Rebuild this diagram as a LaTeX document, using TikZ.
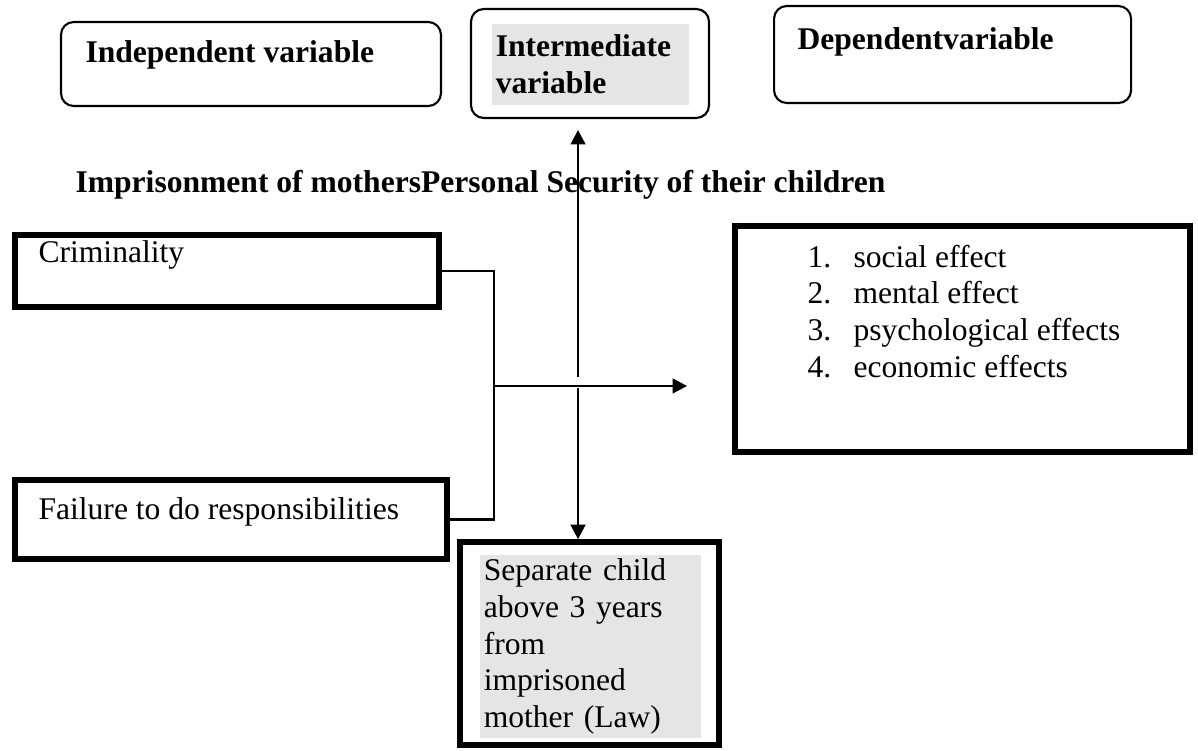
\documentclass[tikz,border=0pt]{standalone}
\usepackage{fontspec}
\setmainfont{Liberation Serif}
\usetikzlibrary{arrows.meta,positioning}

\begin{document}
\begin{tikzpicture}[
	font=\fontsize{12}{14}\selectfont,
	varbox/.style={draw=black, line width=0.8pt, rounded corners=0.17cm},
	thickbox/.style={draw=black, line width=2.2pt},
	txt/.style={anchor=west, inner sep=0pt, align=left},
	shade/.style={fill=black!10, inner xsep=0.05cm, inner ysep=0pt, align=left},
	link/.style={black, line width=0.8pt},
	arr/.style={link, -{Triangle[length=5.5pt,width=5.6pt]}}
	]
	\useasboundingbox (0,0) rectangle (16,10.017);
	\node[varbox, minimum width=5.075cm, minimum height=1.122cm] (indep) at (3.352,9.162) {};
	\node[varbox, minimum width=3.179cm, minimum height=1.456cm] (inter) at (7.880,9.169) {};
	\node[varbox, minimum width=4.768cm, minimum height=1.296cm] (dep) at (12.722,9.289) {};
	\node[txt, font=\fontsize{12}{14}\selectfont\bfseries] (indeptxt) at (1.135,9.282) {Independent variable};
	\node[shade, text width=2.531cm, minimum height=1.082cm, font=\fontsize{12}{14}\selectfont\bfseries] (intertxt) at (7.887,9.155) {Intermediate\\variable};
	\node[txt, font=\fontsize{12}{14}\selectfont\bfseries] (deptxt) at (10.645,9.456) {Dependentvariable};
	\node[txt, font=\fontsize{12}{14}\selectfont\bfseries] (title) at (1.002,7.546) {Imprisonment of mothersPersonal Security of their children};
	\node[thickbox, minimum width=5.663cm, minimum height=0.962cm] (crim) at (3.032,6.398) {};
	\node[thickbox, minimum width=5.770cm, minimum height=1.055cm] (fail) at (3.085,3.079) {};
	\node[thickbox, minimum width=6.077cm, minimum height=3.018cm] (effects) at (12.855,5.489) {};
	\node[thickbox, minimum width=3.459cm, minimum height=2.711cm] (law) at (7.873,1.422) {};
	\node[txt] (crimtxt) at (0.508,6.611) {Criminality};
	\node[txt] (failtxt) at (0.508,3.179) {Failure to do responsibilities};
	\node[txt] (efflist) at (10.778,5.857) {\makebox[17.5pt][l]{1.}social effect\\\makebox[17.5pt][l]{2.}mental effect\\\makebox[17.5pt][l]{3.}psychological effects\\\makebox[17.5pt][l]{4.}economic effects};
	\node[shade, text width=2.852cm, minimum height=2.444cm] (lawtxt) at (7.887,1.382) {Separate child\\above 3 years\\from\\imprisoned\\mother (Law)};
	\coordinate (brk) at (6.598,4.862);
	\coordinate (ctr) at (7.720,4.862);
	\coordinate (efftip) at (9.176,4.862);
	\coordinate (uptip) at (7.720,8.281);
	\draw[link] (crim.east) -| (brk) |- (fail.east);
	\draw[arr] (brk) -- (efftip);
	\draw[arr] ([yshift=0.12cm]ctr) -- (uptip);
	\draw[arr] ([yshift=-0.03cm]ctr) -- (ctr |- law.north);
\end{tikzpicture}
\end{document}
